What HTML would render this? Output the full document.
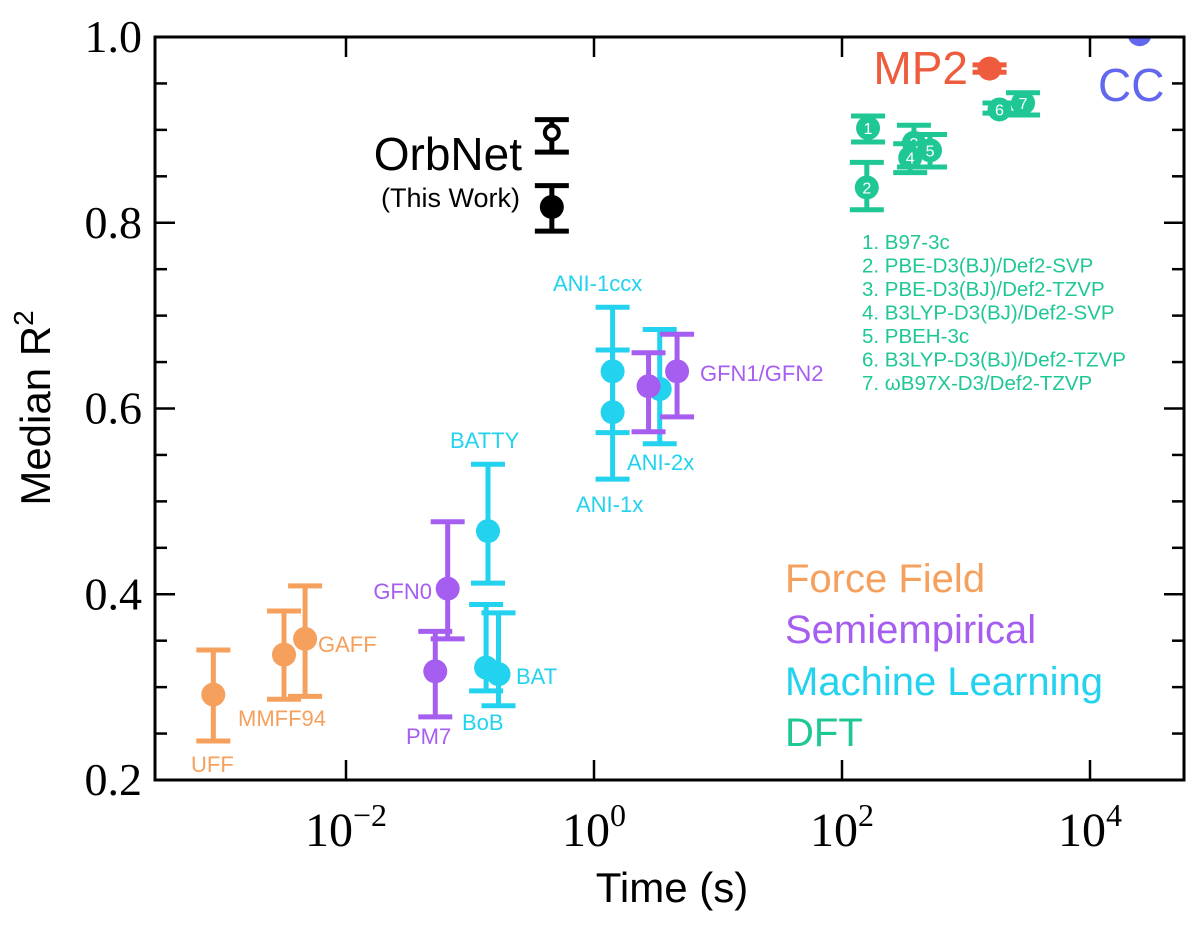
<!DOCTYPE html>
<html><head><meta charset="utf-8"><style>
html,body{margin:0;padding:0;background:#fff;}
svg{display:block;font-family:"Liberation Sans",sans-serif;}
</style></head><body>
<svg id="chart" width="1200" height="942" viewBox="0 0 1200 942">
<defs><clipPath id="pc"><rect x="155" y="37" width="1029" height="743"/></clipPath></defs>
</svg>
<script>
const names = ["UFF","MMFF94","GAFF","PM7","GFN0","BATTY","BoB","BAT","ANI-1ccx","ANI-1x","ANI-2x","GFN1","GFN2","OrbNet-best","OrbNet","1","2","3","4","5","6","7","MP2","CC"];
const logTimes = [-3.07,-2.5,-2.33,-1.28,-1.18,-0.855,-0.87,-0.77,0.15,0.15,0.53,0.44,0.67,-0.34,-0.34,2.21,2.2,2.58,2.55,2.71,3.27,3.46,3.19,4.4];
const medians = [0.292,0.335,0.352,0.317,0.406,0.468,0.321,0.314,0.64,0.596,0.621,0.624,0.64,0.897,0.817,0.902,0.838,0.886,0.870,0.878,0.922,0.929,0.966,1.003];
const errLow = [0.242,0.287,0.29,0.268,0.352,0.412,0.296,0.28,0.574,0.524,0.562,0.575,0.591,0.876,0.791,0.887,0.814,0.86,0.854,0.86,0.918,0.916,0.962,1.003];
const errHigh = [0.34,0.382,0.409,0.36,0.478,0.54,0.389,0.38,0.709,0.663,0.685,0.66,0.68,0.911,0.84,0.915,0.865,0.905,0.885,0.895,0.929,0.94,0.97,1.003];
const groups = ["ff","ff","ff","se","se","ml","ml","ml","ml","ml","ml","se","se","orb","orb","dft","dft","dft","dft","dft","dft","dft","mp2","cc"];
const yTicks = [0.2,0.4,0.6,0.8,1.0];
const xTicks = [-2,0,2,4];

const colors = {ff:"#f5a05c",se:"#a65ef0",ml:"#22d2ee",orb:"#000",dft:"#1fc795",mp2:"#ef5b3d",cc:"#6268ee"};
const L=155,R=1184,T=37,B=780;
const xS = v => 594 + v*124;
const yS = v => B - (v-0.2)/0.8*(B-T);
const svg = document.getElementById('chart');
const NS="http://www.w3.org/2000/svg";
function mk(tag, attrs, parent){const e=document.createElementNS(NS,tag);for(const k in attrs)e.setAttribute(k,attrs[k]);(parent||svg).appendChild(e);return e;}

for(let v=0.2; v<=1.0001; v+=0.05){
  const y=yS(v); const major=Math.abs(v*5-Math.round(v*5))<1e-6;
  const len=major?20:12;
  mk('line',{x1:L,x2:L+len,y1:y,y2:y,stroke:'#000','stroke-width':2.5});
  mk('line',{x1:R,x2:R-len,y1:y,y2:y,stroke:'#000','stroke-width':2.5});
}
yTicks.forEach(v=>{
  const t=mk('text',{x:142,y:yS(v)+15,'text-anchor':'end','font-family':'Liberation Serif,serif','font-size':46});
  t.textContent=v.toFixed(1);
  
  
});
xTicks.forEach(v=>{
  const x=xS(v);
  mk('line',{x1:x,x2:x,y1:B,y2:B-20,stroke:'#000','stroke-width':2.5});
  mk('line',{x1:x,x2:x,y1:T,y2:T+20,stroke:'#000','stroke-width':2.5});
  const t=mk('text',{x:x,y:846,'text-anchor':'middle','font-family':'Liberation Serif,serif','font-size':48});
  t.innerHTML='10<tspan dy="-20" font-size="32">'+(v<0?'\u2212'+(-v):v)+'</tspan>';
  
  
});

const xt=mk('text',{x:672,y:902,'text-anchor':'middle','font-size':42});
xt.textContent='Time (s)';


const yt=mk('text',{x:0,y:0,'text-anchor':'middle','font-size':42,transform:'translate(50,408) rotate(-90)'});
yt.innerHTML='Median R<tspan dy="-17" font-size="28">2</tspan>';



const plot=mk('g',{'clip-path':'url(#pc)'});


names.forEach((n,i)=>{
  const c=colors[groups[i]]; const x=xS(logTimes[i]);
  const g=mk('g',{},plot);
  
  
  const y1=yS(errLow[i]), y2=yS(errHigh[i]);
  if(groups[i]!=='cc'){
    mk('line',{x1:x,x2:x,y1:y1,y2:y2,stroke:c,'stroke-width':5},g);
    mk('line',{x1:x-17,x2:x+17,y1:y1,y2:y1,stroke:c,'stroke-width':5},g);
    mk('line',{x1:x-17,x2:x+17,y1:y2,y2:y2,stroke:c,'stroke-width':5},g);
  }
  const hollow=n==='OrbNet-best';
  mk('circle',{cx:x,cy:yS(medians[i]),r:hollow?7:12,fill:hollow?'#fff':c,stroke:c,'stroke-width':hollow?4:0},g);
  if(groups[i]==='dft'){
    const t=mk('text',{x:x,y:yS(medians[i])+6,'text-anchor':'middle','font-size':16,fill:'#fff'},g);
    t.textContent=n;
  }
});
const frame = mk('rect',{x:L,y:T,width:R-L,height:B-T,fill:'none',stroke:'#000','stroke-width':3});



function label(txt,x,y,size,fill,name,anchor){
  const t=mk('text',{x:x,y:y,'font-size':size,fill:fill,'text-anchor':anchor||'start'});
  t.textContent=txt;
  
  
}
const o=colors.ff,p=colors.se,m=colors.ml,d=colors.dft;
label('UFF',191,772,22,o,'label-uff');
label('MMFF94',238,726,22,o,'label-mmff94');
label('GAFF',318,652,22,o,'label-gaff');
label('PM7',406,744,22,p,'label-pm7');
label('GFN0',432,599,22,p,'label-gfn0','end');
label('BATTY',450,448,22,m,'label-batty');
label('BoB',462,730,22,m,'label-bob');
label('BAT',516,684,22,m,'label-bat');
label('ANI-1ccx',553,291,22,m,'label-ani-1ccx');
label('ANI-1x',576,512,22,m,'label-ani-1x');
label('ANI-2x',627,470,22,m,'label-ani-2x');
label('GFN1/GFN2',700,381,22,p,'label-gfn1-gfn2');
label('OrbNet',522,170,46,'#000','label-orbnet','end');
label('(This Work)',520,207,27,'#000','label-this-work','end');
label('MP2',968,84,46,colors.mp2,'label-mp2','end');
label('CC',1098,101,46,colors.cc,'label-cc');
const dl=['1. B97-3c','2. PBE-D3(BJ)/Def2-SVP','3. PBE-D3(BJ)/Def2-TZVP','4. B3LYP-D3(BJ)/Def2-SVP','5. PBEH-3c','6. B3LYP-D3(BJ)/Def2-TZVP','7. \u03c9B97X-D3/Def2-TZVP'];
dl.forEach((s,i)=>label(s,862,249+i*23.5,20.5,d,'dft-method-'+(i+1)));
label('Force Field',785,592,40,o,'legend-force-field');
label('Semiempirical',785,643,40,p,'legend-semiempirical');
label('Machine Learning',785,695,40,m,'legend-machine-learning');
label('DFT',785,746,40,d,'legend-dft');
</script>
</body></html>
